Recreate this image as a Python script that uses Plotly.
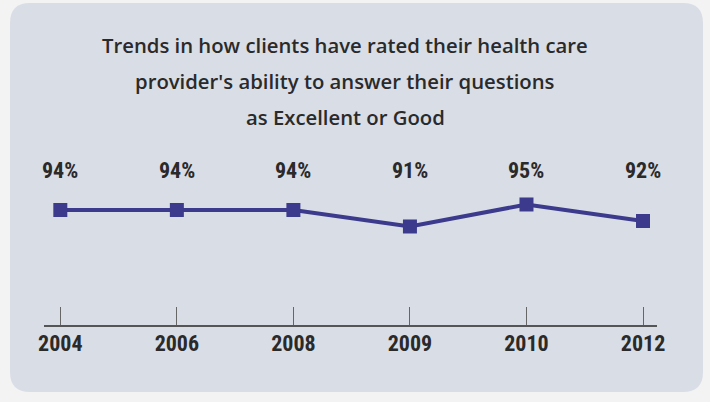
import plotly.graph_objects as go

# data
years = ["2004", "2006", "2008", "2009", "2010", "2012"]
rated_pct = [94, 94, 94, 91, 95, 92]
title_lines = [
    "Trends in how clients have rated their health care",
    "provider's ability to answer their questions",
    "as Excellent or Good",
]

PAGE = "#f3f3f4"
PANEL = "#d9dde6"
LINE = "#3b3a8c"
TEXT = "#2a2a2a"
AXIS = "#555555"

TITLE_FONT = "Open Sans, sans-serif"
NUM_FONT = "Liberation Sans Narrow, Roboto Condensed, Arial Narrow, sans-serif"

W, H = 710, 402
ML, MR, MT, MB = 44, 53, 150, 77
PW, PH = W - ML - MR, H - MT - MB


def px_x(x):
    """pixel column -> paper x"""
    return (x - ML) / PW


def px_y(y):
    """pixel row (from top) -> paper y"""
    return (H - MB - y) / PH


fig = go.Figure(
    go.Scatter(
        x=years,
        y=rated_pct,
        mode="lines+markers",
        line=dict(color=LINE, width=4),
        marker=dict(symbol="square", size=14, color=LINE),
        hovertemplate="%{x}: %{y}%<extra></extra>",
    )
)

# value labels sit in one row above the line, not on the points
for i, v in enumerate(rated_pct):
    fig.add_annotation(
        x=i, y=px_y(170), xref="x", yref="paper", yanchor="middle",
        text=f"{v}%", showarrow=False,
        font=dict(family=NUM_FONT, size=22, color=TEXT, weight="bold"),
    )

# three-line heading, spaced wider than plotly's own line height
for line, row in zip(title_lines, [45, 81, 117]):
    fig.add_annotation(
        x=px_x(345), y=px_y(row), xref="paper", yref="paper",
        xanchor="center", yanchor="middle", text=line, showarrow=False,
        font=dict(family=TITLE_FONT, size=20.3, color=TEXT, weight=600),
    )

# rounded card behind the chart (pixel corners converted to paper)
x0, x1, y0, y1, r = 10, 703, 3, 392, 20
card = (
    f"M {px_x(x0 + r)} {px_y(y0)} L {px_x(x1 - r)} {px_y(y0)} "
    f"Q {px_x(x1)} {px_y(y0)} {px_x(x1)} {px_y(y0 + r)} "
    f"L {px_x(x1)} {px_y(y1 - r)} Q {px_x(x1)} {px_y(y1)} {px_x(x1 - r)} {px_y(y1)} "
    f"L {px_x(x0 + r)} {px_y(y1)} Q {px_x(x0)} {px_y(y1)} {px_x(x0)} {px_y(y1 - r)} "
    f"L {px_x(x0)} {px_y(y0 + r)} Q {px_x(x0)} {px_y(y0)} {px_x(x0 + r)} {px_y(y0)} Z"
)

fig.update_layout(
    width=W,
    height=H,
    paper_bgcolor=PAGE,
    plot_bgcolor="rgba(0,0,0,0)",
    margin=dict(l=ML, r=MR, t=MT, b=MB),
    showlegend=False,
    shapes=[dict(type="path", xref="paper", yref="paper", layer="below",
                 path=card, fillcolor=PANEL, line=dict(width=0))],
)

fig.update_xaxes(
    type="category",
    range=[-0.14, 5.12],
    showgrid=False,
    zeroline=False,
    showline=True,
    linecolor=AXIS,
    linewidth=2,
    ticks="inside",
    ticklen=18,
    tickwidth=1.2,
    tickcolor="#666666",
    ticklabelstandoff=-2,
    tickfont=dict(family=NUM_FONT, size=22, color=TEXT, weight="bold"),
)
fig.update_yaxes(range=[73.1, 104.9], visible=False)

fig.write_html(
    "out.html",
    config={"displayModeBar": False},
    post_script="document.body.style.margin='0';",
)
